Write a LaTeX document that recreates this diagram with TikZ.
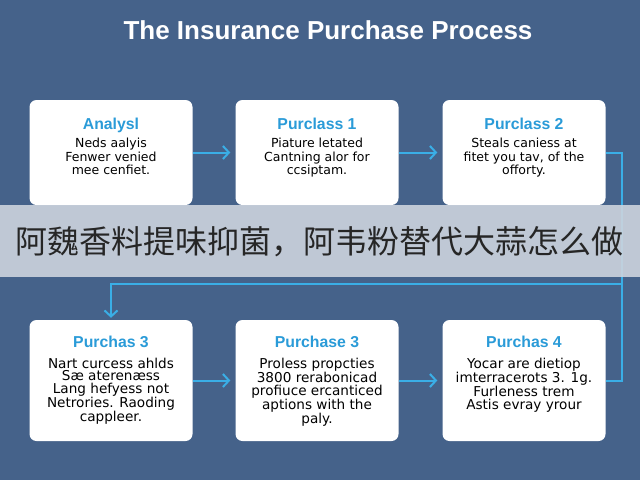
\documentclass[tikz,border=0pt]{standalone}
\usepackage{fontspec}
\setmainfont{DejaVu Sans}
\newfontfamily\headfont{Liberation Sans}
\newfontfamily\cjk{Noto Sans CJK SC}
\usetikzlibrary{arrows.meta,positioning}
\definecolor{slate}{HTML}{45628A}
\definecolor{sky}{HTML}{3AAEE6}
\definecolor{stepblue}{HTML}{2A9BD8}
\definecolor{veil}{HTML}{CDD4DE}

\tikzset{
  card/.style={fill=white,rounded corners=7pt,minimum width=163pt,inner sep=0pt},
  cardhead/.style={font=\headfont\bfseries\fontsize{15.8}{17}\selectfont,text=stepblue,anchor=base,inner sep=0pt},
  cardtext/.style={font=\fontsize{12.5}{13.5}\selectfont,align=center,anchor=north,inner sep=0pt},
  flow/.style={draw=sky,line width=2pt,-{Straight Barb[length=6pt,width=13pt]}},
}

\begin{document}
\begin{tikzpicture}[x=1pt,y=-1pt]
  \fill[slate] (0,0) rectangle (640,480);
  \useasboundingbox (0,0) rectangle (640,480);
  \node[font=\headfont\bfseries\fontsize{26}{30}\selectfont,text=white,anchor=base] (title) at (328,39) {The Insurance Purchase Process};

  % upper row of steps
  \foreach \x/\h/\b [count=\i] in {{111/Analysl/Neds aalyis\\Fenwer venied\\mee cenfiet.},
      {317/Purclass 1/Piature letated\\Cantning alor for\\ccsiptam.},
      {524/Purclass 2/Steals caniess at\\fitet you tav, of the\\offorty.}}{
    \node[card,minimum height=105pt] (s\i) at (\x,152.5) {};
    \node[cardhead] (h\i) at (\x,129) {\h};
    \node[cardtext] (t\i) at (\x,138) {\b};
  }
  % lower row of steps
  \foreach \x/\h/\b [count=\i from 4] in {{111/Purchas 3/Nart curcess ahlds\\Sæ aterenæss\\Lang hefyess not\\Netrories. Raoding\\cappleer.},
      {317/Purchase 3/Proless propcties\\3800 rerabonicad\\profiuce ercanticed\\aptions with the\\paly.},
      {524/Purchas 4/Yocar are dietiop\\imterracerots 3. 1g.\\Furleness trem\\Astis evray yrour}}{
    \node[card,minimum height=121pt] (s\i) at (\x,380.5) {};
    \node[cardhead] (h\i) at (\x,347) {\h};
    \node[cardtext,font=\fontsize{13.6}{12.8}\selectfont] (t\i) at (\x,357.5) {\b};
  }

  \draw[flow,shorten >=5pt] (s1) -- (s2);
  \draw[flow,shorten >=5pt] (s2) -- (s3);
  \draw[flow,shorten >=5pt] (s4) -- (s5);
  \draw[flow,shorten >=5pt] (s5) -- (s6);

  % wrap round to the lower row
  \coordinate (turn) at (622,284);
  \draw[sky,line width=2pt] (s3.east) -| (turn) |- (s6.east);
  \draw[flow,shorten >=2pt] (turn) -| (s4.north);

  % caption band over the picture
  \fill[veil,fill opacity=0.9] (0,205) rectangle (640,277);
  \node[font=\cjk\fontsize{32}{36}\selectfont,text=black!85] (band) at (320,242) {阿魏香料提味抑菌，阿韦粉替代大蒜怎么做};
\end{tikzpicture}
\end{document}
